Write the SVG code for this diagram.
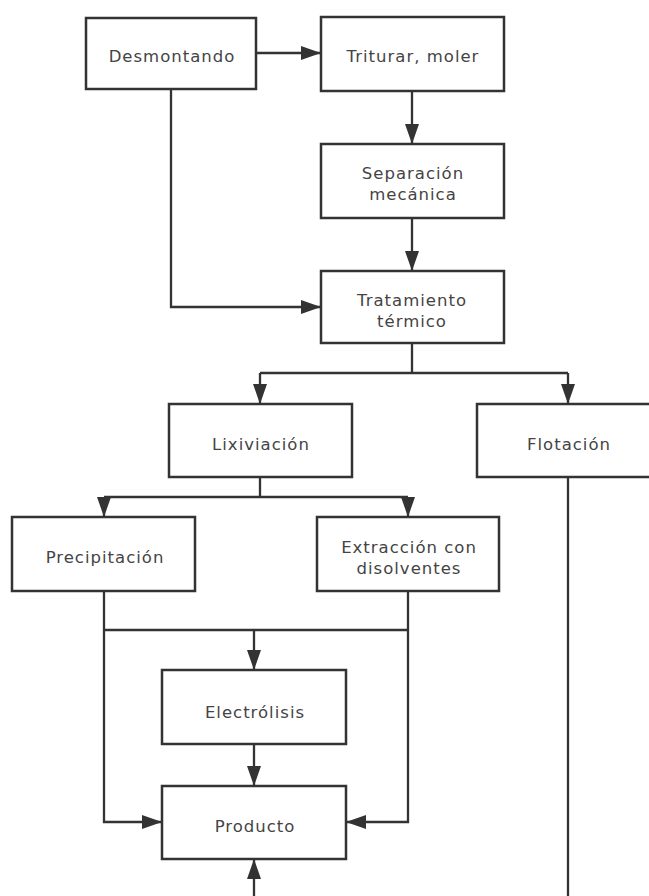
<svg xmlns="http://www.w3.org/2000/svg" width="649" height="896" viewBox="0 0 649 896">
<defs>
<marker id="arr" markerUnits="userSpaceOnUse" markerWidth="20" markerHeight="14" refX="20" refY="7" orient="auto">
<path d="M0,0 L20,7 L0,14 z" fill="#333"/>
</marker>
<style>
.box{fill:#fff;stroke:#333;stroke-width:2.5}
.lbl{font-family:"DejaVu Sans",Verdana,sans-serif;font-size:16.5px;fill:#444;text-anchor:middle;letter-spacing:1px}
.c{fill:none;stroke:#333;stroke-width:2.3}
.a{marker-end:url(#arr)}
</style>
</defs>
<rect width="649" height="896" fill="#fff"/>
<g id="connectors">
<path class="c a" d="M256,53 H321"/>
<path class="c a" d="M171,89 V307 H321"/>
<path class="c a" d="M412,91 V144"/>
<path class="c a" d="M412,218 V271"/>
<path class="c" d="M412,343 V373 M260,373 H568"/>
<path class="c a" d="M260,373 V404"/>
<path class="c a" d="M568,373 V404"/>
<path class="c" d="M260,477 V497 M104,497 H408"/>
<path class="c a" d="M104,497 V517"/>
<path class="c a" d="M408,497 V517"/>
<path class="c a" d="M104,591 V822 H162"/>
<path class="c a" d="M408,591 V822 H346"/>
<path class="c" d="M104,630 H408"/>
<path class="c a" d="M254,630 V670"/>
<path class="c a" d="M254,744 V786"/>
<path class="c a" d="M254,896 V859"/>
<path class="c" d="M568,477 V896"/>
</g>
<g id="desmontando"><rect class="box" x="86" y="18" width="170" height="71"/><text class="lbl" x="172" y="62">Desmontando</text></g>
<g id="triturar"><rect class="box" x="321" y="17" width="183" height="74"/><text class="lbl" x="413" y="62">Triturar, moler</text></g>
<g id="separacion"><rect class="box" x="321" y="144" width="183" height="74"/><text class="lbl" x="413" y="179">Separación</text><text class="lbl" x="413" y="200">mecánica</text></g>
<g id="tratamiento"><rect class="box" x="321" y="271" width="183" height="72"/><text class="lbl" x="412" y="306">Tratamiento</text><text class="lbl" x="412" y="327">térmico</text></g>
<g id="lixiviacion"><rect class="box" x="169" y="404" width="183" height="73"/><text class="lbl" x="261" y="450">Lixiviación</text></g>
<g id="flotacion"><rect class="box" x="477" y="404" width="183" height="73"/><text class="lbl" x="569" y="450">Flotación</text></g>
<g id="precipitacion"><rect class="box" x="12" y="517" width="183" height="74"/><text class="lbl" x="105" y="563">Precipitación</text></g>
<g id="extraccion"><rect class="box" x="317" y="517" width="182" height="74"/><text class="lbl" x="409" y="553">Extracción con</text><text class="lbl" x="409" y="574">disolventes</text></g>
<g id="electrolisis"><rect class="box" x="162" y="670" width="184" height="74"/><text class="lbl" x="255" y="718">Electrólisis</text></g>
<g id="producto"><rect class="box" x="162" y="786" width="184" height="73"/><text class="lbl" x="255" y="832">Producto</text></g>
</svg>
